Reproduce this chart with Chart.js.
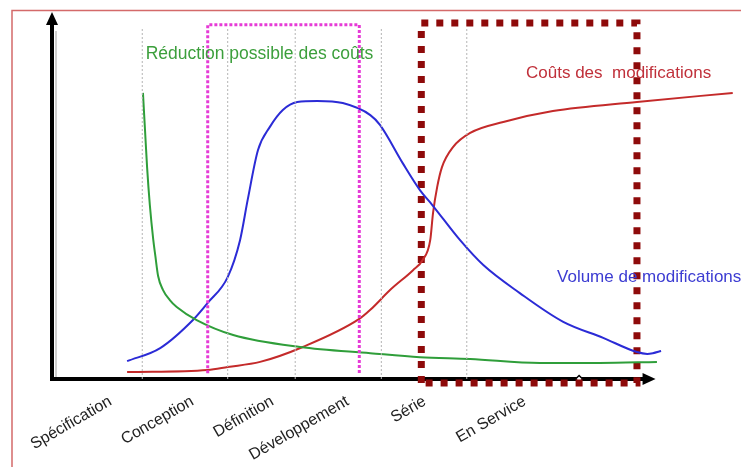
<!DOCTYPE html>
<html>
<head>
<meta charset="utf-8">
<script src="https://cdn.jsdelivr.net/npm/chart.js@4/dist/chart.umd.min.js"></script>
<style>
  html, body { margin: 0; padding: 0; background: #fff; }
  #wrap { position: relative; width: 741px; height: 467px; }
</style>
</head>
<body>
<div id="wrap"><canvas id="c"></canvas></div>
<script>
// ---- Data (x: project timeline 0-100, y: relative level 0-100) ----
const phaseLabels = ['Spécification', 'Conception', 'Définition', 'Développement', 'Série', 'En Service'];
const phaseLabelTicks = [8.5, 20.4, 32.0, 42.9, 54.1, 68.6];
const phaseBoundaries = [13.1, 25.5, 35.3, 47.8, 60.2];
const phaseTop = 96.4;

const reductionX = [13.2, 13.5, 13.8, 14.2, 14.7, 15.0, 15.4, 16.1, 17.1, 18.1, 21.0, 26.3, 36.0, 46.2, 53.4, 60.7, 70.8, 79.5, 87.8];
const reductionY = [78.6, 68.4, 58.2, 47.8, 38.2, 33.8, 28.3, 24.5, 21.7, 19.8, 16.2, 12.1, 8.8, 7.1, 6.0, 5.5, 4.4, 4.4, 4.7];

const volumeX = [10.9, 15.7, 20.6, 22.6, 25.5, 27.3, 28.4, 29.9, 31.6, 33.5, 35.6, 38.5, 42.2, 46.2, 47.6, 50.9, 53.4, 55.2, 59.2, 62.6, 67.9, 74.2, 80.0, 84.9, 86.4, 87.2, 88.4];
const volumeY = [4.9, 8.5, 16.5, 20.9, 28.0, 38.2, 49.2, 62.9, 69.2, 73.9, 76.1, 76.4, 75.8, 72.5, 69.8, 59.3, 51.9, 47.8, 38.2, 31.3, 23.6, 15.7, 11.3, 7.4, 6.9, 7.1, 7.7];

const coutX = [10.9, 22.6, 25.5, 30.2, 36.4, 44.6, 46.2, 49.1, 52.4, 53.8, 54.9, 55.3, 55.9, 56.6, 58.2, 60.7, 65.5, 72.7, 84.9, 98.8];
const coutY = [1.9, 2.5, 3.3, 4.7, 8.8, 16.5, 19.0, 24.5, 29.9, 32.7, 38.2, 45.6, 52.7, 58.2, 63.7, 67.6, 70.6, 73.6, 76.1, 78.6];

// highlighted zones (x range, y range)
const zoneDesignX = [22.6, 44.6];
const zoneDesignY = [1.6, 97.3];
const zoneProdX = [53.6, 84.9];
const zoneProdY = [-1.1, 97.8];

const xAxisEnd = 87.6;
const axisMarker = [{ x: 76.5, y: 0 }];

// annotations: text, x, baseline y (data units)
const notes = [
  { text: 'Réduction possible des coûts', x: 13.6, y: 87.9, color: '#3c9f3c', size: 17.5 },
  { text: 'Coûts des  modifications', x: 68.8, y: 82.7, color: '#c0303a', size: 17 },
  { text: 'Volume de modifications', x: 73.3, y: 26.6, color: '#3c3cd2', size: 17 }
];

const pts = (xs, ys) => xs.map((x, i) => ({ x: x, y: ys[i] }));

const datasets = [];
phaseBoundaries.forEach(b => {
  datasets.push({
    data: [{ x: b, y: 0 }, { x: b, y: phaseTop }],
    borderColor: '#b4b4b4', borderWidth: 1, borderDash: [2, 2],
    pointRadius: 0, tension: 0
  });
});
datasets.push({
  data: [
    { x: zoneDesignX[0], y: zoneDesignY[0] }, { x: zoneDesignX[0], y: zoneDesignY[1] },
    { x: zoneDesignX[1], y: zoneDesignY[1] }, { x: zoneDesignX[1], y: zoneDesignY[0] }
  ],
  borderColor: '#e63ad6', borderWidth: 3, borderDash: [3, 2],
  pointRadius: 0, tension: 0
});
datasets.push({
  label: 'Réduction possible des coûts',
  data: pts(reductionX, reductionY),
  borderColor: '#2f9e3a', borderWidth: 2, pointRadius: 0,
  cubicInterpolationMode: 'monotone'
});
datasets.push({
  label: 'Volume de modifications',
  data: pts(volumeX, volumeY),
  borderColor: '#2b2bd6', borderWidth: 2, pointRadius: 0,
  cubicInterpolationMode: 'monotone'
});
datasets.push({
  label: 'Coûts des modifications',
  data: pts(coutX, coutY),
  borderColor: '#c42a2a', borderWidth: 2, pointRadius: 0,
  cubicInterpolationMode: 'monotone'
});
datasets.push({
  data: [
    { x: zoneProdX[0], y: zoneProdY[0] }, { x: zoneProdX[0], y: zoneProdY[1] },
    { x: zoneProdX[1], y: zoneProdY[1] }, { x: zoneProdX[1], y: zoneProdY[0] },
    { x: zoneProdX[0], y: zoneProdY[0] }
  ],
  borderColor: '#8e0a0a', borderWidth: 7, borderDash: [7, 8],
  pointRadius: 0, tension: 0
});
datasets.push({
  data: axisMarker,
  showLine: false,
  pointStyle: 'rectRot', pointRadius: 3.5, pointHoverRadius: 3.5,
  pointBackgroundColor: '#ffffff', pointBorderColor: '#000000', pointBorderWidth: 1.5
});

const decor = {
  id: 'decor',
  beforeDraw(chart) {
    const ctx = chart.ctx;
    ctx.save();
    ctx.strokeStyle = '#d46a6a';
    ctx.lineWidth = 1.5;
    ctx.beginPath();
    ctx.moveTo(12, 467); ctx.lineTo(12, 10.5); ctx.lineTo(741, 10.5);
    ctx.stroke();
    ctx.restore();
  },
  beforeDatasetsDraw(chart) {
    const ctx = chart.ctx;
    const a = chart.chartArea;
    const xs = chart.scales.x;
    const x0 = a.left, y0 = a.bottom;
    const xEnd = xs.getPixelForValue(xAxisEnd);
    ctx.save();
    ctx.strokeStyle = '#cfcfcf'; ctx.lineWidth = 2;
    ctx.beginPath(); ctx.moveTo(x0 + 4, a.top + 16); ctx.lineTo(x0 + 4, y0); ctx.stroke();
    ctx.strokeStyle = '#000'; ctx.fillStyle = '#000'; ctx.lineWidth = 4;
    ctx.beginPath();
    ctx.moveTo(x0, y0 + 2); ctx.lineTo(x0, a.top + 8);
    ctx.moveTo(x0 - 2, y0); ctx.lineTo(xEnd - 10, y0);
    ctx.stroke();
    ctx.beginPath();
    ctx.moveTo(x0, a.top - 3); ctx.lineTo(x0 - 6, a.top + 10); ctx.lineTo(x0 + 6, a.top + 10); ctx.closePath();
    ctx.fill();
    ctx.beginPath();
    ctx.moveTo(xEnd, y0); ctx.lineTo(xEnd - 13, y0 - 6); ctx.lineTo(xEnd - 13, y0 + 6); ctx.closePath();
    ctx.fill();
    ctx.restore();
  },
  afterDatasetsDraw(chart) {
    const ctx = chart.ctx;
    const xs = chart.scales.x, ys = chart.scales.y;
    ctx.save();
    ctx.textBaseline = 'alphabetic';
    ctx.textAlign = 'left';
    notes.forEach(n => {
      ctx.font = n.size + 'px "Liberation Sans", Arial, sans-serif';
      ctx.fillStyle = n.color;
      ctx.fillText(n.text, xs.getPixelForValue(n.x), ys.getPixelForValue(n.y));
    });
    ctx.restore();
  }
};

new Chart(document.getElementById('c'), {
  type: 'line',
  data: { datasets: datasets },
  plugins: [decor],
  options: {
    responsive: true,
    maintainAspectRatio: false,
    animation: false,
    clip: false,
    layout: { autoPadding: false, padding: { left: 52, top: 15, right: 0, bottom: 0 } },
    plugins: { legend: { display: false }, tooltip: { enabled: false } },
    elements: { line: { fill: false } },
    scales: {
      x: {
        type: 'linear', min: 0, max: 100,
        grid: { display: false, drawTicks: false },
        border: { display: false },
        afterBuildTicks: (s) => { s.ticks = phaseLabelTicks.map(v => ({ value: v })); },
        afterFit: (s) => { s.height = 88; },
        ticks: {
          autoSkip: false, minRotation: 30, maxRotation: 30, padding: 13,
          color: '#222',
          font: { family: '"Liberation Sans", Arial, sans-serif', size: 16 },
          callback: (v, i) => phaseLabels[i]
        }
      },
      y: { type: 'linear', min: 0, max: 100, display: false }
    }
  }
});
</script>
</body>
</html>
